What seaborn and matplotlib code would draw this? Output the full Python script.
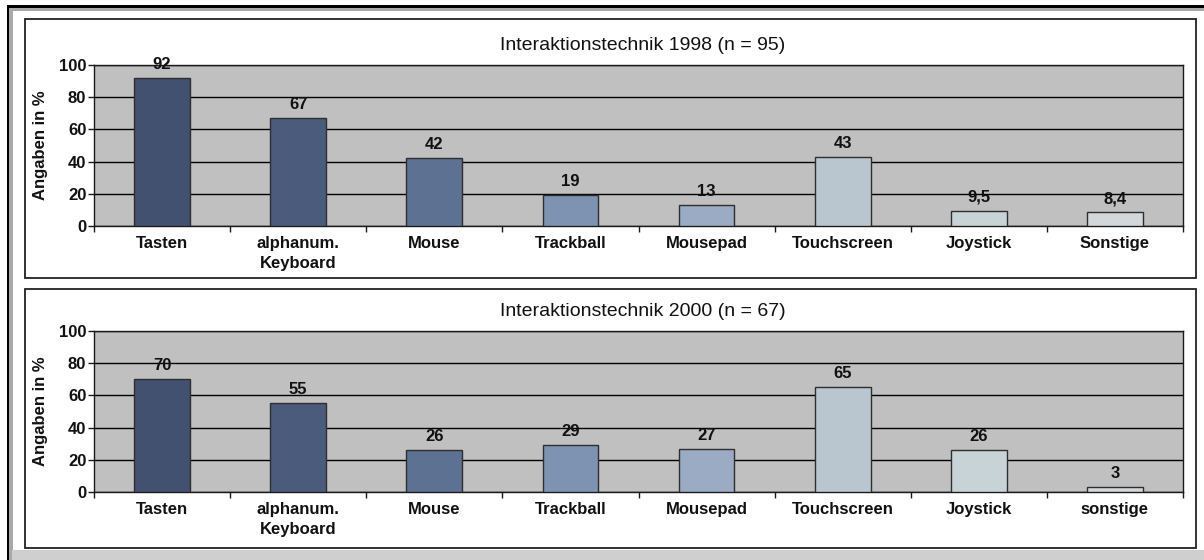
import matplotlib
matplotlib.use("Agg")
import matplotlib.pyplot as plt
import seaborn as sns
import pandas as pd
from matplotlib.patches import Rectangle

# ---------------- data ----------------
categories_1998 = ["Tasten", "alphanum.\nKeyboard", "Mouse", "Trackball",
                   "Mousepad", "Touchscreen", "Joystick", "Sonstige"]
values_1998 = [92, 67, 42, 19, 13, 43, 9.5, 8.4]

categories_2000 = ["Tasten", "alphanum.\nKeyboard", "Mouse", "Trackball",
                   "Mousepad", "Touchscreen", "Joystick", "sonstige"]
values_2000 = [70, 55, 26, 29, 27, 65, 26, 3]

titles = ["Interaktionstechnik 1998 (n = 95)", "Interaktionstechnik 2000 (n = 67)"]
y_label = "Angaben in %"
y_ticks = [0, 20, 40, 60, 80, 100]

bar_colors = ["#435170", "#4a5b7b", "#5d7193", "#7e93b1",
              "#9aabc3", "#b9c6cf", "#c8d3d7", "#d3d7da"]

# ---------------- style ----------------
sns.set_theme(style="white")
plt.rcParams['font.family'] = ['Liberation Sans', 'DejaVu Sans']

W, H = 1204, 560
fig = plt.figure(figsize=(W / 100, H / 100), dpi=100)
fig.patch.set_facecolor("white")


def fx(px):
    return px / W


def fy(py):
    return 1 - py / H


def prect(x0, y0, x1, y1, **kw):
    r = Rectangle((fx(x0), fy(y1)), fx(x1) - fx(x0), (y1 - y0) / H,
                  transform=fig.transFigure, zorder=-5, **kw)
    fig.add_artist(r)


# outer frame pieces
prect(9, 8, W, 11, facecolor="#a9a9a9", edgecolor="none")
prect(9, 8, 12.5, H, facecolor="#a9a9a9", edgecolor="none")
prect(12, 550, W, H, facecolor="#cfcfcf", edgecolor="none")
prect(7, 5, W, 7.5, facecolor="#000000", edgecolor="none")
prect(7, 5, 8.5, H, facecolor="#000000", edgecolor="none")

# panel geometry (pixels): box top, box bottom, plot top, plot bottom, title y
panels = [(19, 278, 65, 226, 45), (289, 548, 331, 492, 311)]
datasets = [(categories_1998, values_1998), (categories_2000, values_2000)]

for (btop, bbot, ptop, pbot, ty), (cats, vals), title in zip(panels, datasets, titles):
    prect(25, btop, 1196, bbot, facecolor="white", edgecolor="#222222", linewidth=1.3)

    ax = fig.add_axes([fx(94), fy(pbot), fx(1183) - fx(94), (pbot - ptop) / H])
    df = pd.DataFrame({"cat": cats, "val": vals})
    sns.barplot(data=df, x="cat", y="val", hue="cat", palette=bar_colors,
                legend=False, width=0.41, saturation=1, edgecolor="#2e2e2e",
                linewidth=1.0, ax=ax, zorder=3)
    ax.set_facecolor("#c0c0c0")
    ax.set_ylim(0, 100)
    ax.set_xlim(-0.5, len(cats) - 0.5)
    ax.set_yticks(y_ticks)
    ax.set_yticklabels([str(t) for t in y_ticks], fontweight="bold", fontsize=12)
    ax.yaxis.grid(True, color="#000000", linewidth=1.0)
    ax.xaxis.grid(False)
    ax.set_axisbelow(True)
    for s in ax.spines.values():
        s.set_visible(True)
        s.set_color("#1a1a1a")
        s.set_linewidth(1.0)

    ax.set_xticks(range(len(cats)))
    ax.set_xticklabels(cats, fontweight="bold", fontsize=12, linespacing=1.45)
    ax.set_xticks([i - 0.5 for i in range(len(cats) + 1)], minor=True)
    ax.tick_params(axis="x", which="major", length=0, pad=7, colors="#111111")
    ax.tick_params(axis="x", which="minor", length=4, width=1, color="#1a1a1a",
                   direction="out", bottom=True)
    ax.tick_params(axis="y", which="major", length=4, width=1, color="#1a1a1a",
                   direction="out", left=True, pad=1.5, labelcolor="#111111")
    ax.set_xlabel("")
    ax.set_ylabel("")

    for i, v in enumerate(vals):
        lab = (f"{v:g}").replace(".", ",")
        ax.annotate(lab, (i, v), xytext=(0, 6.5), textcoords="offset points",
                    ha="center", va="baseline", fontsize=12, fontweight="bold",
                    color="#111111", annotation_clip=False, zorder=5)

    fig.text(fx(643), fy(ty), title, ha="center", va="center", fontsize=14,
             color="#111111")
    fig.text(fx(40), fy((ptop + pbot) / 2), y_label, rotation=90, ha="center",
             va="center", fontsize=12, fontweight="bold", color="#111111")

fig.savefig("out.png", dpi=100, facecolor="white")
